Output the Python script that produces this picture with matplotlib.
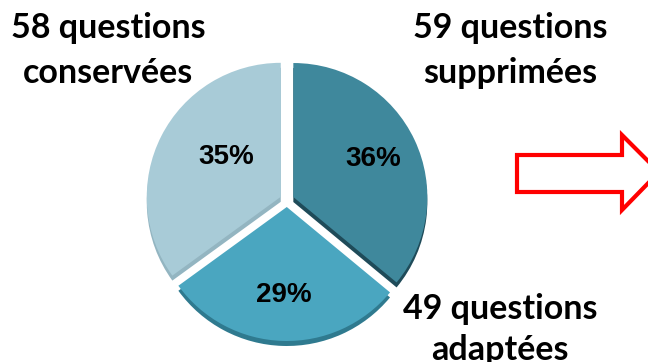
import math
import matplotlib
matplotlib.use("Agg")
import matplotlib.pyplot as plt
from matplotlib.patches import Polygon

# Data
categories = ["supprimées", "adaptées", "conservées"]
counts = [59, 49, 58]
percents = [36, 29, 35]
colors = ["#3f889c", "#4aa6c0", "#a8cbd7"]
edge_colors = ["#1f4b59", "#2f7a8f", "#93b5c1"]

W, H = 648, 362
fig = plt.figure(figsize=(W / 100, H / 100), dpi=100)
ax = fig.add_axes([0, 0, 1, 1])

cx, cy, r = 287, H - 200, 134
explode = [7, 7, 7]

# thickness of the slices: darker copy slightly below
ax.pie(percents, startangle=90, counterclock=False, colors=edge_colors,
       explode=explode, center=(cx, cy - 5), radius=r, frame=True,
       wedgeprops=dict(linewidth=0))

wedges, _, autotexts = ax.pie(
    percents, startangle=90, counterclock=False, colors=colors,
    explode=explode, center=(cx, cy), radius=r, frame=True,
    autopct=lambda p: f"{p:.0f}%", pctdistance=0.66,
    wedgeprops=dict(linewidth=0),
    textprops=dict(fontsize=20, fontweight="bold", family="Liberation Sans",
                   color="black"))

# percentage label placement inside each slice (fraction of radius, angle shift)
label_radius = [0.66, 0.66, 0.50]
label_shift = [0, 0, -9]
for w, t, lr, sh in zip(wedges, autotexts, label_radius, label_shift):
    th = math.radians((w.theta1 + w.theta2) / 2 + sh)
    x0, y0 = w.center
    t.set_position((x0 + lr * r * math.cos(th), y0 + lr * r * math.sin(th)))

ax.set_xlim(0, W)
ax.set_ylim(0, H)
ax.set_aspect("auto")
ax.set_axis_off()

# Outer labels
label_pos = [(510, 38, 83), (500, 319, 360), (108, 38, 83)]
for cat, n, (x, y1, y2) in zip(categories, counts, label_pos):
    ax.text(x, H - y1, f"{n} questions", ha="center", va="baseline",
            fontsize=24.5, fontweight="bold", family="Lato", color="black")
    ax.text(x, H - y2, cat, ha="center", va="baseline",
            fontsize=24.5, fontweight="bold", family="Lato", color="black")

# Arrow on the right
arrow = [(517, 155), (622, 155), (622, 135), (659, 172),
         (622, 210), (622, 192), (517, 192)]
ax.add_patch(Polygon([(x, H - y) for x, y in arrow], closed=True,
                     facecolor="white", edgecolor="#ff0000", linewidth=3,
                     joinstyle="miter", clip_on=False))

fig.savefig("out.png", dpi=100)
